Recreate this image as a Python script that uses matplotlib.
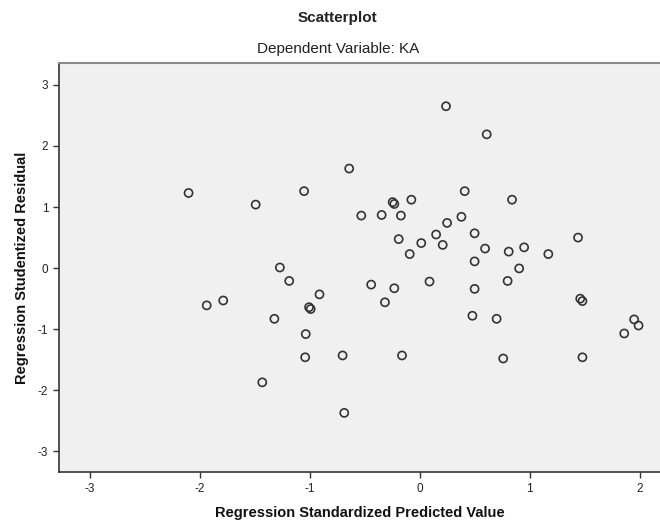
import matplotlib
matplotlib.use("Agg")
import matplotlib.pyplot as plt

# Regression standardized predicted value (x) vs studentized residual (y)
pred = [-2.10, -1.49, -1.05, -0.64, 0.24, 0.61, 0.41, 0.84, -0.245, -0.23,
        -0.075, -0.53, -0.345, -0.17, 0.38, 0.25, 0.15, -0.19, 0.015, 0.21,
        0.50, -0.09, 0.595, 0.81, 0.95, 1.17, 1.44, 0.50, 0.905, -1.27,
        -1.185, -0.91, -1.935, -1.785, -1.005, -0.99, -0.44, -0.23, -0.315, 0.09,
        0.50, 0.80, 1.46, 1.48, 0.48, 0.70, 1.95, 1.99, 1.86, -1.32,
        -1.035, -1.04, -0.70, -0.16, 0.76, 1.48, -1.43, -0.685]
resid = [1.23, 1.04, 1.26, 1.63, 2.65, 2.19, 1.26, 1.12, 1.08, 1.05,
         1.12, 0.86, 0.87, 0.86, 0.84, 0.74, 0.55, 0.475, 0.41, 0.38,
         0.57, 0.23, 0.32, 0.27, 0.34, 0.23, 0.50, 0.11, -0.005, 0.01,
         -0.21, -0.43, -0.61, -0.53, -0.64, -0.67, -0.27, -0.33, -0.56, -0.22,
         -0.34, -0.21, -0.50, -0.54, -0.78, -0.83, -0.84, -0.94, -1.07, -0.83,
         -1.08, -1.46, -1.43, -1.43, -1.48, -1.46, -1.87, -2.37]

x_ticks = [-3, -2, -1, 0, 1, 2]
y_ticks = [-3, -2, -1, 0, 1, 2, 3]

plt.rcParams['font.family'] = ['Liberation Sans', 'DejaVu Sans']

fig = plt.figure(figsize=(6.6, 5.24), dpi=100)
ax = fig.add_axes([0.089, 0.099, 0.911, 0.781])
ax.set_facecolor('#f0f0f0')

ax.scatter(pred, resid, s=34, facecolors='none', edgecolors='#333333',
           linewidths=1.2, zorder=3)

ax.set_xlim(-3.28, 2.185)
ax.set_ylim(-3.34, 3.36)
ax.set_xticks(x_ticks)
ax.set_yticks(y_ticks)
ax.set_xticklabels([str(t) for t in x_ticks])
ax.set_yticklabels([str(t) for t in y_ticks])
ax.tick_params(direction='out', length=4, width=1, colors='#333333',
               labelsize=8.5, labelcolor='#222222')

for side in ('left', 'bottom'):
    ax.spines[side].set_color('#333333')
    ax.spines[side].set_linewidth(1.2)
ax.spines['top'].set_color('#8a8a8a')
ax.spines['top'].set_linewidth(1.5)
ax.spines['right'].set_visible(False)

ax.set_xlabel('Regression Standardized Predicted Value', fontsize=10.5,
              fontweight='bold', color='#111111', labelpad=8)
ax.set_ylabel('Regression Studentized Residual', fontsize=10.5,
              fontweight='bold', color='#111111', labelpad=6)

fig.text(0.512, 0.966, 'Scatterplot', ha='center', va='center',
         fontsize=11, fontweight='bold', color='#222222')
fig.text(0.512, 0.906, 'Dependent Variable: KA', ha='center', va='center',
         fontsize=11, color='#222222')

fig.savefig('out.png', dpi=100, facecolor='white')
